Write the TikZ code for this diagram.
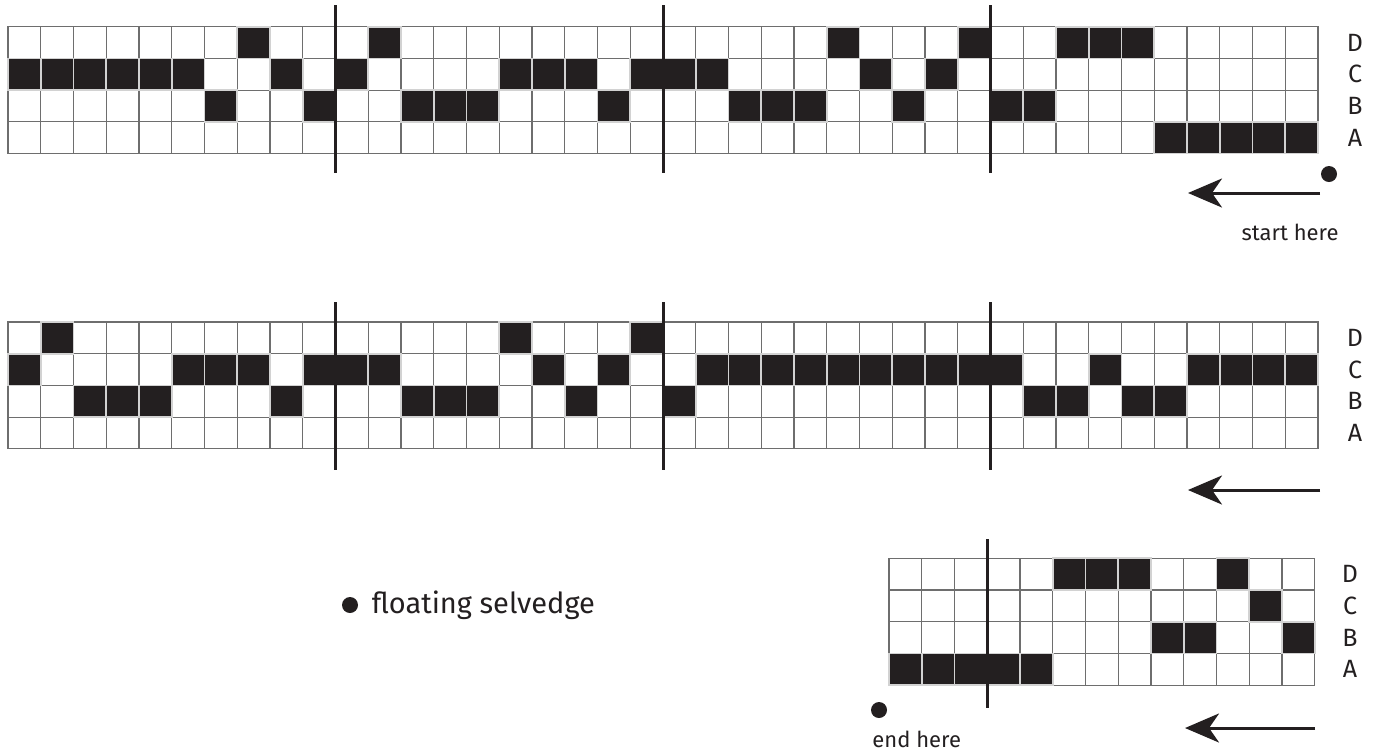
\documentclass[tikz,border=0pt]{standalone}
\usepackage{fontspec}
\setmainfont{Fira Sans}
\usepackage{xcolor}
\usepackage{tikz}
\usetikzlibrary{arrows.meta, positioning}
\definecolor{GridGray}{RGB}{110,110,110}
\definecolor{ShaftBlack}{RGB}{35,31,32}
\tikzset{
  >={Stealth[length=17pt,width=14.5pt,inset=5pt]},
  % celle del rimettaggio
  cell/.style={draw=GridGray,line width=0.6pt},
  cell on/.style={fill=ShaftBlack},
  cell seam/.style={draw=gray!35,line width=0.9pt},
  % separatori ogni 10 fili
  divider/.style={draw=ShaftBlack,line width=1.5pt},
  % etichette dei licci
  shaft label/.style={inner sep=0,font=\fontsize{12.5pt}{14pt}\selectfont,text=ShaftBlack},
  note/.style={inner sep=0,font=\fontsize{11pt}{13pt}\selectfont,text=ShaftBlack},
  legend/.style={inner sep=0,font=\fontsize{14.5pt}{17pt}\selectfont,text=ShaftBlack},
  selvedge/.style={circle,fill=ShaftBlack,inner sep=0,minimum size=8pt},
  direction/.style={->,line width=1.5pt,draw=ShaftBlack}
}
\providecommand{\cw}{32.75}
\providecommand{\ch}{31.7}

\begin{document}
\begin{tikzpicture}[x=0.5pt,y=-0.5pt]
  \useasboundingbox (0,0) rectangle (1374,752);
  % prima riga
  \begin{scope}[shift={(8,26.7)}]
    \foreach \c in {0,...,39}
      \foreach \r in {0,...,3}
        \draw[cell] (\c*\cw,\r*\ch) rectangle ++(\cw,\ch);
    \foreach \r [count=\c from 0] in {1,1,1,1,1,1,2,0,1,2,1,0,2,2,2,1,1,1,2,1,1,1,2,2,2,0,1,2,1,0,2,2,0,0,0,3,3,3,3,3}
      \fill[cell on] (\c*\cw,\r*\ch) rectangle ++(\cw,\ch);
    \foreach \r [count=\c from 0] in {1,1,1,1,1,1,2,0,1,2,1,0,2,2,2,1,1,1,2,1,1,1,2,2,2,0,1,2,1,0,2,2,0,0,0,3,3,3,3,3}
      \draw[cell seam] (\c*\cw,\r*\ch) rectangle ++(\cw,\ch);
    \foreach \k in {10,20,30}
      \draw[divider] (\k*\cw,-21.7) -- (\k*\cw,146.3);
  \end{scope}
  \node[shaft label] (topD) at (1355,42.5) {D};
  \node[shaft label] (topC) at (1355,74.2) {C};
  \node[shaft label] (topB) at (1355,105.9) {B};
  \node[shaft label] (topA) at (1355,137.6) {A};
  \node[selvedge] (start) at (1329,174) {};
  \coordinate (arrA from) at (1320,193);
  \coordinate (arrA to) at (1188,193);
  \draw[direction] (arrA from) -- (arrA to);
  \node[note] (startlbl) at (1290,232) {start here};

  % seconda riga
  \begin{scope}[shift={(8,322)}]
    \foreach \c in {0,...,39}
      \foreach \r in {0,...,3}
        \draw[cell] (\c*\cw,\r*\ch) rectangle ++(\cw,\ch);
    \foreach \r [count=\c from 0] in {1,0,2,2,2,1,1,1,2,1,1,1,2,2,2,0,1,2,1,0,2,1,1,1,1,1,1,1,1,1,1,2,2,1,2,2,1,1,1,1}
      \fill[cell on] (\c*\cw,\r*\ch) rectangle ++(\cw,\ch);
    \foreach \r [count=\c from 0] in {1,0,2,2,2,1,1,1,2,1,1,1,2,2,2,0,1,2,1,0,2,1,1,1,1,1,1,1,1,1,1,2,2,1,2,2,1,1,1,1}
      \draw[cell seam] (\c*\cw,\r*\ch) rectangle ++(\cw,\ch);
    \foreach \k in {10,20,30}
      \draw[divider] (\k*\cw,-20) -- (\k*\cw,148);
  \end{scope}
  \node[shaft label] (midD) at (1355,337.8) {D};
  \node[shaft label] (midC) at (1355,369.5) {C};
  \node[shaft label] (midB) at (1355,401.2) {B};
  \node[shaft label] (midA) at (1355,432.9) {A};
  \coordinate (arrB from) at (1320,490);
  \coordinate (arrB to) at (1188,490);
  \draw[direction] (arrB from) -- (arrB to);

  % terza riga
  \begin{scope}[shift={(889,558.3)}]
    \foreach \c in {0,...,12}
      \foreach \r in {0,...,3}
        \draw[cell] (\c*\cw,\r*\ch) rectangle ++(\cw,\ch);
    \foreach \r [count=\c from 0] in {3,3,3,3,3,0,0,0,2,2,0,1,2}
      \fill[cell on] (\c*\cw,\r*\ch) rectangle ++(\cw,\ch);
    \foreach \r [count=\c from 0] in {3,3,3,3,3,0,0,0,2,2,0,1,2}
      \draw[cell seam] (\c*\cw,\r*\ch) rectangle ++(\cw,\ch);
    \draw[divider] (3*\cw,-19.3) -- (3*\cw,149.7);
  \end{scope}
  \node[shaft label] (botD) at (1350,574.1) {D};
  \node[shaft label] (botC) at (1350,605.8) {C};
  \node[shaft label] (botB) at (1350,637.5) {B};
  \node[shaft label] (botA) at (1350,669.2) {A};
  \node[selvedge] (end) at (879,710) {};
  \node[note,anchor=west] (endlbl) at (872,739) {end here};
  \coordinate (arrC from) at (1315,728);
  \coordinate (arrC to) at (1185,728);
  \draw[direction] (arrC from) -- (arrC to);

  % legenda
  \node[selvedge] (keydot) at (350,605) {};
  \node[legend,right=6.5pt of keydot] (key) {floating selvedge};
\end{tikzpicture}
\end{document}
